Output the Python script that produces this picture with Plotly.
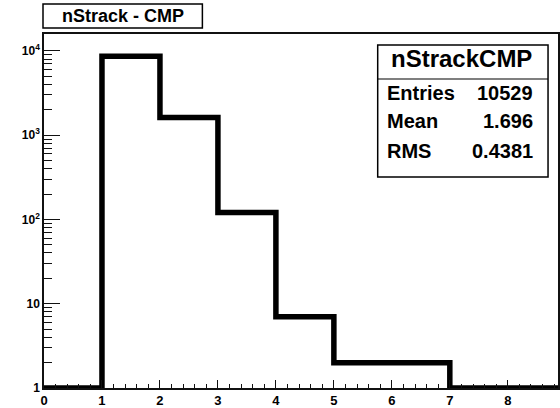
import plotly.graph_objects as go

# ---- data ----
bin_edges = [0, 1, 2, 3, 4, 5, 6, 7, 8, 9, 10]
bin_counts = [0, 8650, 1620, 121, 7, 2, 2, 0, 0, 0]
hist_title = "nStrack - CMP"
stats_name = "nStrackCMP"
stats_labels = ["Entries", "Mean", "RMS"]
stats_values = ["10529", "1.696", "0.4381"]
y_tickvals = [1, 10, 100, 1000, 10000]
y_ticktext = ["1", "10", "10<sup>2</sup>", "10<sup>3</sup>", "10<sup>4</sup>"]

# ---- layout geometry (pixels) ----
W, H = 560, 408
L, R, T, B = 44, 0, 34, 20
PW, PH = W - L - R, H - T - B
Y_MIN = 1


def px(x):
    return (x - L) / PW


def py(y):
    return (H - B - y) / PH


y_draw = [max(c, Y_MIN) for c in bin_counts]
y_draw = y_draw + [y_draw[-1]]

fig = go.Figure()
fig.add_trace(go.Scatter(
    x=bin_edges, y=y_draw, mode="lines", line_shape="hv",
    line=dict(color="black", width=5.5), cliponaxis=False,
    hoverinfo="skip", showlegend=False,
))

FONT = "Liberation Sans, Arial, sans-serif"

minor_y = [m * 10 ** d for d in range(0, 5) for m in range(2, 10)]

fig.update_layout(
    width=W, height=H,
    margin=dict(l=L, r=R, t=T, b=B, pad=0),
    paper_bgcolor="white", plot_bgcolor="white",
    showlegend=False,
    xaxis=dict(
        range=[0, (W - L) / 58.2], showgrid=False, zeroline=False,
        showline=True, linecolor="#111", linewidth=1.5, mirror=True,
        ticks="inside", ticklen=8, tickwidth=1.2, tickcolor="#111",
        tickmode="linear", tick0=0, dtick=1,
        tickfont=dict(family=FONT, size=13, color="black", weight="bold"),
        minor=dict(ticks="inside", ticklen=4, tickwidth=1.2, tickcolor="#111",
                   tickmode="linear", tick0=0, dtick=0.2, showgrid=False),
    ),
    yaxis=dict(
        type="log", range=[0, 4.2], showgrid=False, zeroline=False,
        showline=True, linecolor="#111", linewidth=1.5, mirror=True,
        ticks="inside", ticklen=16, tickwidth=1.2, tickcolor="#111",
        tickmode="array", tickvals=y_tickvals, ticktext=y_ticktext,
        tickfont=dict(family=FONT, size=12, color="black", weight="bold"),
        minor=dict(ticks="inside", ticklen=8, tickwidth=1.2, tickcolor="#111",
                   tickmode="array", tickvals=minor_y, showgrid=False),
    ),
)

# title box
fig.add_shape(type="rect", xref="paper", yref="paper",
              x0=px(43), x1=px(203), y0=py(28), y1=py(4),
              line=dict(color="black", width=1.5), fillcolor="white")
fig.add_annotation(xref="paper", yref="paper", x=px(123), y=py(16),
                   text=hist_title, showarrow=False, xanchor="center", yanchor="middle",
                   font=dict(family=FONT, size=18, color="black", weight="bold"))

# stats box
fig.add_shape(type="rect", xref="paper", yref="paper",
              x0=px(379), x1=px(550), y0=py(177), y1=py(45),
              line=dict(color="black", width=1.5), fillcolor="white")
fig.add_shape(type="line", xref="paper", yref="paper",
              x0=px(379), x1=px(550), y0=py(79), y1=py(79),
              line=dict(color="black", width=1.2))
fig.add_annotation(xref="paper", yref="paper", x=px(463), y=py(58),
                   text=stats_name, showarrow=False, xanchor="center", yanchor="middle",
                   font=dict(family=FONT, size=24, color="black", weight="bold"))
row_y = [93, 121, 151]
for lab, val, yy in zip(stats_labels, stats_values, row_y):
    fig.add_annotation(xref="paper", yref="paper", x=px(386), y=py(yy),
                       text=lab, showarrow=False, xanchor="left", yanchor="middle",
                       font=dict(family=FONT, size=20, color="black", weight="bold"))
    fig.add_annotation(xref="paper", yref="paper", x=px(537), y=py(yy),
                       text=val, showarrow=False, xanchor="right", yanchor="middle",
                       font=dict(family=FONT, size=20, color="black", weight="bold"))

fig.write_html("out.html")
